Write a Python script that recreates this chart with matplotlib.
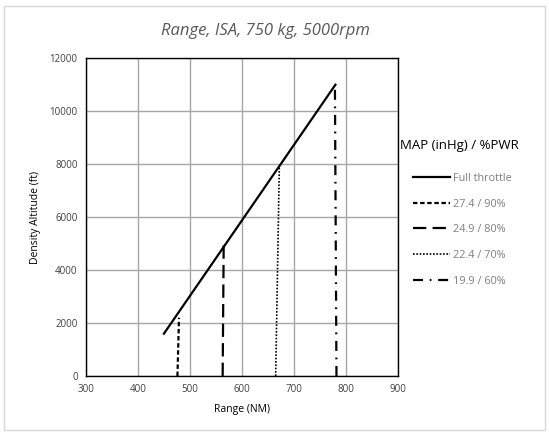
import matplotlib
matplotlib.use('Agg')
import matplotlib.pyplot as plt
from matplotlib.patches import Rectangle

# full throttle line
ft_range = [450, 780]
ft_alt = [1600, 11000]

# constant power settings (range at sea level -> range at ceiling)
p90_range = [476, 479]
p90_alt = [0, 2200]
p80_range = [563, 565]
p80_alt = [0, 5000]
p70_range = [665, 672]
p70_alt = [0, 7900]
p60_range = [782, 779]
p60_alt = [0, 11000]

labels = ['Full throttle', '27.4 / 90%', '24.9 / 80%', '22.4 / 70%', '19.9 / 60%']

x_ticks = [300, 400, 500, 600, 700, 800, 900]
y_ticks = [0, 2000, 4000, 6000, 8000, 10000, 12000]

plt.rcParams['font.family'] = ['Open Sans', 'DejaVu Sans']

fig = plt.figure(figsize=(5.49, 4.33), dpi=100)
fig.patches.append(Rectangle((0.007, 0.007), 0.986, 0.978, transform=fig.transFigure,
                             fill=False, edgecolor='#d9d9d9', linewidth=1))
ax = fig.add_axes([0.1566, 0.1316, 0.568, 0.734])

ax.plot(ft_range, ft_alt, color='black', lw=1.6, label=labels[0])
ax.plot(p90_range, p90_alt, color='black', lw=1.6, dashes=(2, 1.2), label=labels[1])
ax.plot(p80_range, p80_alt, color='black', lw=1.6, dashes=(6, 2.8), label=labels[2])
ax.plot(p70_range, p70_alt, color='black', lw=1.2, dashes=(1, 1), label=labels[3])
ax.plot(p60_range, p60_alt, color='black', lw=1.6, dashes=(4.5, 3, 0.8, 3), label=labels[4])

ax.set_xlim(300, 900)
ax.set_ylim(0, 12000)
ax.set_xticks(x_ticks)
ax.set_yticks(y_ticks)
ax.grid(True, color='#a6a6a6', linewidth=1)
ax.set_axisbelow(True)
ax.tick_params(length=0, labelsize=7, colors='#404040', pad=6)
for s in ax.spines.values():
    s.set_color('black')
    s.set_linewidth(1)

ax.set_xlabel('Range (NM)', fontsize=7.5, labelpad=6)
ax.set_ylabel('Density Altitude (ft)', fontsize=7.5, labelpad=6)
fig.text(0.483, 0.928, 'Range, ISA, 750 kg, 5000rpm', ha='center', va='center',
         fontsize=12, style='italic', color='#595959')

# legend title sits a bit left of the handles
fig.text(400 / 549, 1 - 145 / 433, 'MAP (inHg) / %PWR', ha='left', va='center',
         fontsize=9.5, color='black')
leg = ax.legend(loc='upper left', bbox_to_anchor=(413 / 549, 1 - 173 / 433),
                bbox_transform=fig.transFigure,
                frameon=False, fontsize=7.8, labelcolor='#7f7f7f',
                handlelength=3.4, handletextpad=0.25, labelspacing=1.35, borderaxespad=0,
                borderpad=0)

fig.savefig('out.png', dpi=100)
